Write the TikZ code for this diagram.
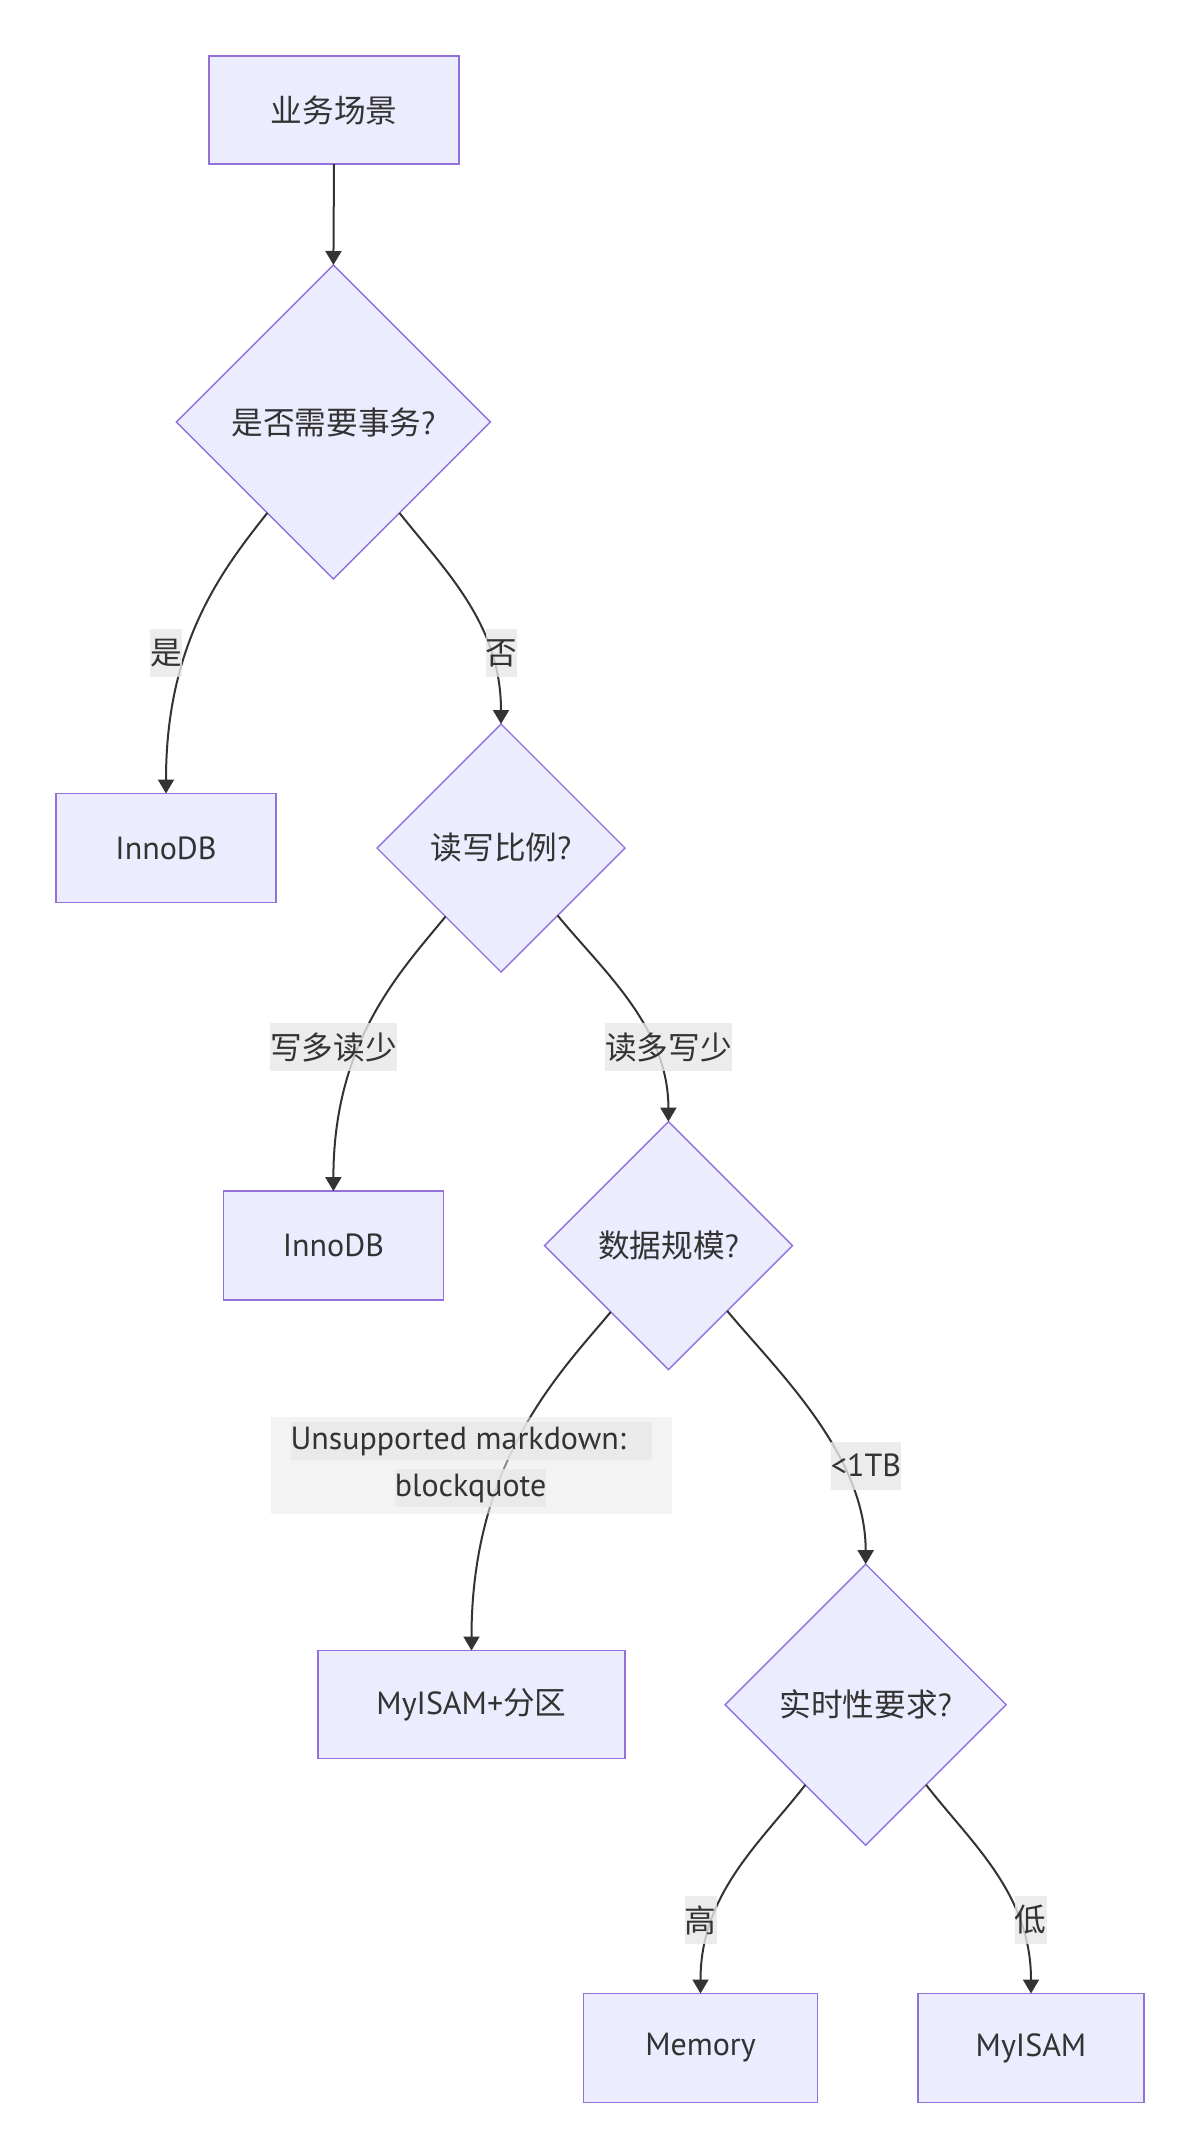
\documentclass[tikz,border=0pt]{standalone}
\usepackage{fontspec}
\setmainfont{PT Sans}
\newfontfamily\cjkfont{Noto Sans CJK SC}[Scale=0.99]
\newcommand{\zh}[1]{{\cjkfont #1}}
\usetikzlibrary{shapes.geometric,arrows.meta}
\definecolor{nfill}{HTML}{ECECFF}
\definecolor{nstroke}{HTML}{9370DB}
\definecolor{ink}{HTML}{333333}
\definecolor{lblbg}{HTML}{E8E8E8}
\tikzset{
  base/.style={font=\fontsize{32}{38}\selectfont, text=ink, inner sep=0pt, outer sep=0pt},
  proc/.style={base, rectangle, draw=nstroke, fill=nfill, line width=1.7pt},
  decide/.style={base, diamond, aspect=1, draw=nstroke, fill=nfill, line width=1.4pt},
  edge/.style={draw=ink, line width=2pt, -{Triangle[length=14pt,width=16pt]}},
  lbl/.style={base, fill=lblbg, fill opacity=0.8, text opacity=1, minimum height=48pt},
  lblouter/.style={base, fill=lblbg, fill opacity=0.5, text opacity=1},
}
\begin{document}
\begin{tikzpicture}[x=1pt,y=-1pt]
\fill[white] (0,0) rectangle (1193,2155);
\useasboundingbox (0,0) rectangle (1193,2155);

% nodes
\node[proc, minimum width=250pt, minimum height=108pt] (top) at (334,110) {\zh{业务场景}};
\node[decide, minimum width=314pt, minimum height=314pt] (d1) at (333.4,422) {\zh{是否需要事务}?};
\node[proc, minimum width=220pt, minimum height=109pt] (in1) at (166,848) {InnoDB};
\node[decide, minimum width=248pt, minimum height=248pt] (d2) at (501,848) {\zh{读写比例}?};
\node[proc, minimum width=220pt, minimum height=109pt] (in2) at (333.4,1245.6) {InnoDB};
\node[decide, minimum width=248pt, minimum height=248pt] (d3) at (668.4,1245.6) {\zh{数据规模}?};
\node[proc, minimum width=307pt, minimum height=108pt] (my1) at (471.5,1704.5) {MyISAM+\zh{分区}};
\node[decide, minimum width=281pt, minimum height=281pt] (d4) at (865.7,1704.7) {\zh{实时性要求}?};
\node[proc, minimum width=234pt, minimum height=109pt] (mem) at (700.5,2048) {Memory};
\node[proc, minimum width=226pt, minimum height=109pt] (my2) at (1031,2048) {MyISAM};

% edges
\draw[edge] (top.south) -- (d1.north);
\draw[edge] (d1.234) .. controls +(-46,58) and +(0,-150) .. (in1.north);
\draw[edge] (d1.306) .. controls +(46,58) and +(0,-100) .. (d2.north);
\draw[edge] (d2.231) .. controls +(-45,55) and +(0,-150) .. (in2.north);
\draw[edge] (d2.310) .. controls +(45,55) and +(0,-95) .. (d3.north);
\draw[edge] (d3.229) .. controls +(-50,60) and +(0,-190) .. (my1.north);
\draw[edge] (d3.312) .. controls +(50,60) and +(0,-110) .. (d4.north);
\draw[edge] (d4.233) .. controls +(-45,58) and +(0,-100) .. (mem.north);
\draw[edge] (d4.307) .. controls +(45,58) and +(0,-100) .. (my2.north);

% edge labels
\node[lbl] (l1) at (166,653) {\zh{是}};
\node[lbl] (l2) at (501.6,653) {\zh{否}};
\node[lbl] (l3) at (333.4,1047) {\zh{写多读少}};
\node[lbl] (l4) at (668.4,1047) {\zh{读多写少}};
\node[lblouter, minimum width=401pt, minimum height=97pt] (bq) at (471,1465.4) {};
\node[lbl, minimum height=38pt] (bq1) at (471,1441) {\makebox[361pt][l]{Unsupported markdown:}};
\node[lbl, minimum height=38pt] (bq2) at (470.7,1488.3) {blockquote};
\node[lbl] (l6) at (866,1465.5) {<1TB};
\node[lbl] (l7) at (700.8,1920) {\zh{高}};
\node[lbl] (l8) at (1030.8,1920) {\zh{低}};
\end{tikzpicture}
\end{document}
